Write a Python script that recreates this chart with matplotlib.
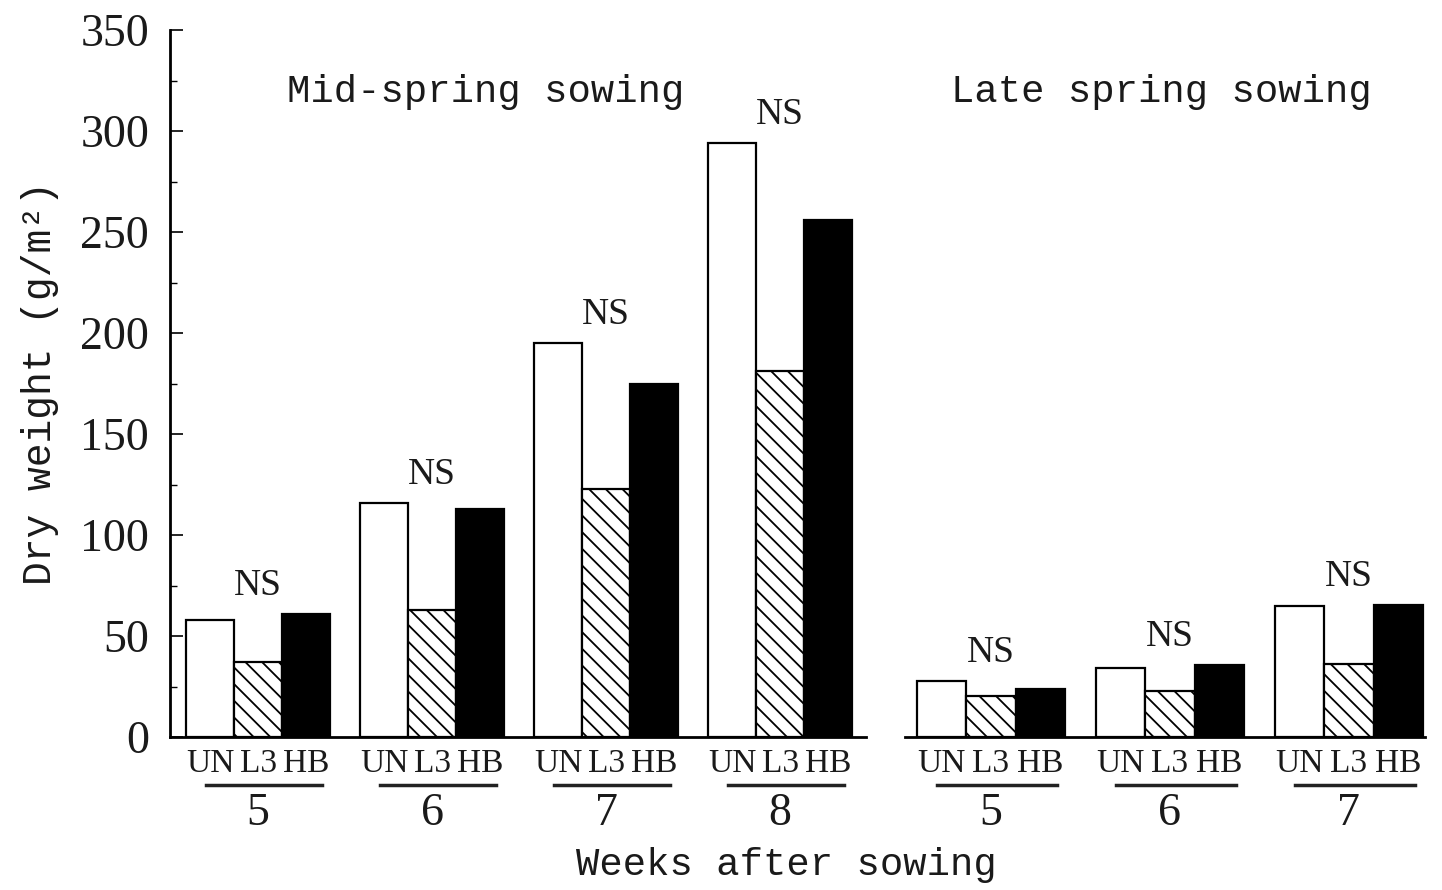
import numpy as np
import matplotlib
matplotlib.use('Agg')
from matplotlib import pyplot as plt
from matplotlib.ticker import MultipleLocator

# 数据
treatments = ['UN', 'L3', 'HB']
weeks_mid = ['5', '6', '7', '8']
un_mid = [58, 116, 195, 294]
l3_mid = [37, 63, 123, 181]
hb_mid = [61, 113, 175, 256]
weeks_late = ['5', '6', '7']
un_late = [27.5, 34, 65]
l3_late = [20.5, 23, 36]
hb_late = [24, 35.5, 65.5]

mono = 'Liberation Mono'
serif = 'Liberation Serif'
txt_color = '#1a1a1a'
plt.rcParams['hatch.linewidth'] = 1.3

fig = plt.figure(figsize=(14.42, 8.9), dpi=100)
ax1 = fig.add_axes([170 / 1442, 1 - 737 / 890, 696 / 1442, 707 / 890])
ax2 = fig.add_axes([905 / 1442, 1 - 737 / 890, 520 / 1442, 707 / 890])

w = 0.276


def draw_group(ax, weeks, un, l3, hb):
    x = np.arange(len(weeks))
    ax.bar(x - w, un, w, color='white', edgecolor='black', linewidth=1.6, zorder=2)
    ax.bar(x, l3, w, color='white', edgecolor='black', hatch='\\\\', linewidth=1.6, zorder=2)
    ax.bar(x + w, hb, w, color='black', edgecolor='black', linewidth=1.6, zorder=2)

    # 处理标签 UN L3 HB
    ticks = np.concatenate([x - w, x, x + w])
    labels = [treatments[0]] * len(x) + [treatments[1]] * len(x) + [treatments[2]] * len(x)
    ax.set_xticks(ticks)
    ax.set_xticklabels(labels, fontfamily=serif, fontsize=24, color=txt_color)
    ax.tick_params(axis='x', length=0, pad=8)

    tr = ax.get_xaxis_transform()
    for i, wk in enumerate(weeks):
        ax.plot([x[i] - 0.3, x[i] + 0.37], [-0.068, -0.068], color='#222222',
                linewidth=2.5, transform=tr, clip_on=False)
        ax.text(x[i], -0.108, wk, transform=tr, ha='center', va='center',
                fontfamily=serif, fontsize=33, color=txt_color)
        top = max(un[i], l3[i], hb[i])
        ax.annotate('NS', (x[i], top), xytext=(0, 8), textcoords='offset points',
                    ha='center', va='bottom', fontfamily=serif, fontsize=27,
                    color=txt_color)

    ax.set_ylim(0, 350)
    for s in ['top', 'right']:
        ax.spines[s].set_visible(False)
    ax.spines['bottom'].set_linewidth(2)
    ax.spines['left'].set_linewidth(2)


draw_group(ax1, weeks_mid, un_mid, l3_mid, hb_mid)
draw_group(ax2, weeks_late, un_late, l3_late, hb_late)

ax1.set_xlim(-0.506, 3.494)
ax2.set_xlim(-0.48, 2.425)

ax1.yaxis.set_major_locator(MultipleLocator(50))
ax1.yaxis.set_minor_locator(MultipleLocator(25))
ax1.tick_params(axis='y', which='major', direction='in', length=9, width=1.2, pad=15,
                labelsize=33, labelcolor=txt_color)
ax1.tick_params(axis='y', which='minor', direction='in', length=5, width=1)
for lab in ax1.get_yticklabels():
    lab.set_fontfamily(serif)

ax2.spines['left'].set_visible(False)
ax2.set_yticks([])

fig.text(486 / 1442, 1 - 92 / 890, 'Mid-spring sowing', ha='center', va='center',
         fontfamily=mono, fontsize=28, color=txt_color)
fig.text(1161 / 1442, 1 - 92 / 890, 'Late spring sowing', ha='center', va='center',
         fontfamily=mono, fontsize=28, color=txt_color)
fig.text(786 / 1442, 1 - 865 / 890, 'Weeks after sowing', ha='center', va='center',
         fontfamily=mono, fontsize=28, color=txt_color)
fig.text(40 / 1442, 1 - 383 / 890, 'Dry weight (g/m²)', ha='center', va='center',
         rotation=90, fontfamily=mono, fontsize=28.5, color=txt_color)

plt.savefig('out.png', dpi=100, facecolor='white')
